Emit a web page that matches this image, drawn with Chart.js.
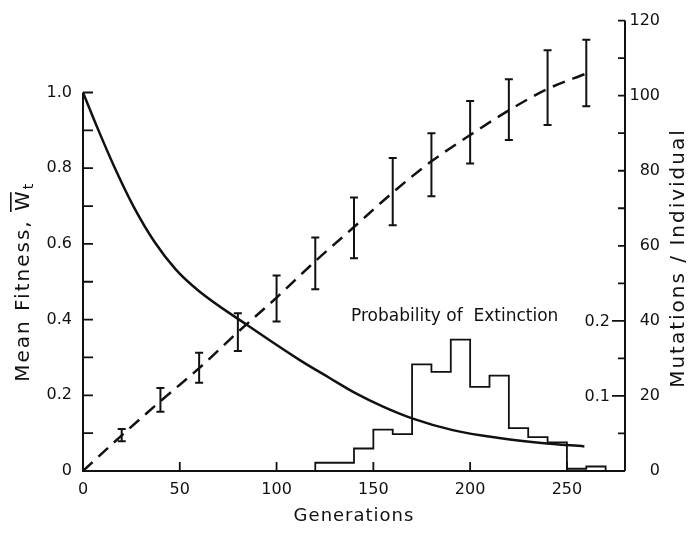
<!DOCTYPE html>
<html>
<head>
<meta charset="utf-8">
<script src="https://cdn.jsdelivr.net/npm/chart.js@4.4.1/dist/chart.umd.min.js"></script>
<style>
  html, body { margin: 0; padding: 0; background: #fff; }
  #wrap { width: 695px; height: 534px; }
</style>
</head>
<body>
<div id="wrap"><canvas id="chart" width="695" height="534"></canvas></div>
<script>
// Axes
const xTicks = [0, 50, 100, 150, 200, 250];
const leftTicks = [0, 0.2, 0.4, 0.6, 0.8, 1.0];
const leftTickLabels = ['0', '0.2', '0.4', '0.6', '0.8', '1.0'];
const rightTicks = [0, 20, 40, 60, 80, 100, 120];
const probTicks = [0.1, 0.2];
const probTickLabels = ['0.1', '0.2'];

// Mean fitness (solid curve, left axis)
const fitGens = [0, 8, 16.5, 26, 37, 48, 60, 85, 112, 127, 141, 155, 170, 191, 215, 237, 259];
const fitValues = [1.0, 0.9, 0.8, 0.7, 0.605, 0.532, 0.475, 0.385, 0.293, 0.247, 0.205, 0.17, 0.139, 0.108, 0.087, 0.074, 0.065];

// Mutations per individual (dashed curve + error bars, right axis)
const mutGens = [0, 20, 40, 60, 80, 100, 120, 140, 160, 180, 200, 220, 240, 260];
const mutMeans = [0, 9.5, 18.6, 27.4, 37.0, 46.2, 55.9, 65.0, 74.2, 82.5, 89.5, 96.1, 101.8, 105.9];
const errGens = [20, 40, 60, 80, 100, 120, 140, 160, 180, 200, 220, 240, 260];
const errLow = [7.9, 15.8, 23.5, 32.0, 39.8, 48.4, 56.7, 65.5, 73.2, 81.9, 88.2, 92.2, 97.2];
const errHigh = [11.2, 22.1, 31.5, 42.0, 52.1, 62.2, 72.9, 83.4, 90.0, 98.6, 104.4, 112.1, 114.9];

// Probability of extinction histogram (inner axis)
const binEdges = [120, 130, 140, 150, 160, 170, 180, 190, 200, 210, 220, 230, 240, 250, 260, 270];
const binProb = [0.011, 0.011, 0.030, 0.055, 0.049, 0.142, 0.132, 0.175, 0.112, 0.127, 0.057, 0.045, 0.038, 0.003, 0.006];

const ink = '#111';
const tickFont = '16px "DejaVu Sans"';
const titleFont = '18px "DejaVu Sans"';
const sideTitleFont = '20px "DejaVu Sans"';

const histPoints = [{ x: binEdges[0], y: 0 }];
binProb.forEach((p, i) => {
    histPoints.push({ x: binEdges[i], y: p });
    histPoints.push({ x: binEdges[i + 1], y: p });
});
histPoints.push({ x: binEdges[binEdges.length - 1], y: 0 });

function rotatedText(ctx, text, cx, cy) {
    ctx.save();
    ctx.translate(cx, cy);
    ctx.rotate(-Math.PI / 2);
    ctx.textAlign = 'center';
    ctx.textBaseline = 'alphabetic';
    ctx.fillText(text, 0, 0);
    ctx.restore();
}

const paperAxes = {
    id: 'paperAxes',
    afterDatasetsDraw(chart) {
        const { ctx, chartArea: a, scales } = chart;
        const x = scales.x, yL = scales.y, yR = scales.yR, yP = scales.yP;
        ctx.save();
        ctx.strokeStyle = ink;
        ctx.fillStyle = ink;

        // error bars
        ctx.lineWidth = 2;
        errGens.forEach((g, i) => {
            const px = x.getPixelForValue(g);
            const top = yR.getPixelForValue(errHigh[i]);
            const bot = yR.getPixelForValue(errLow[i]);
            ctx.beginPath();
            ctx.moveTo(px, top); ctx.lineTo(px, bot);
            ctx.moveTo(px - 4, top); ctx.lineTo(px + 4, top);
            ctx.moveTo(px - 4, bot); ctx.lineTo(px + 4, bot);
            ctx.stroke();
        });

        // axis lines
        ctx.lineWidth = 2;
        ctx.beginPath();
        ctx.moveTo(a.left, yL.getPixelForValue(1.0));
        ctx.lineTo(a.left, a.bottom);
        ctx.lineTo(a.right, a.bottom);
        ctx.moveTo(a.right, a.bottom);
        ctx.lineTo(a.right, yR.getPixelForValue(120));
        ctx.stroke();

        // inward ticks
        ctx.lineWidth = 1.8;
        ctx.beginPath();
        for (let v = 0.1; v <= 1.0001; v += 0.1) {
            const py = yL.getPixelForValue(v);
            ctx.moveTo(a.left, py); ctx.lineTo(a.left + 10, py);
        }
        for (let v = 10; v <= 120; v += 10) {
            const py = yR.getPixelForValue(v);
            ctx.moveTo(a.right, py); ctx.lineTo(a.right - 7, py);
        }
        xTicks.slice(1).forEach(v => {
            const px = x.getPixelForValue(v);
            ctx.moveTo(px, a.bottom); ctx.lineTo(px, a.bottom - 9);
        });
        probTicks.forEach(v => {
            const py = yP.getPixelForValue(v);
            ctx.moveTo(a.right - 13, py); ctx.lineTo(a.right, py);
        });
        ctx.stroke();

        // inner probability labels
        ctx.font = tickFont;
        ctx.textAlign = 'right';
        ctx.textBaseline = 'middle';
        probTicks.forEach((v, i) => {
            ctx.fillText(probTickLabels[i], a.right - 15, yP.getPixelForValue(v) + 1);
        });

        // annotation
        ctx.font = '17px "DejaVu Sans"';
        ctx.textAlign = 'center';
        ctx.textBaseline = 'alphabetic';
        ctx.fillText('Probability of  Extinction', x.getPixelForValue(192), yP.getPixelForValue(0.2));

        // titles
        ctx.font = titleFont;
        ctx.letterSpacing = '1px';
        ctx.textAlign = 'center';
        ctx.fillText('Generations', (a.left + a.right) / 2, 521);

        ctx.font = sideTitleFont;
        ctx.letterSpacing = '2px';
        rotatedText(ctx, 'Mutations / Individual', 684, 258);

        // left title with W-bar and subscript t
        const midY = (yL.getPixelForValue(0) + yL.getPixelForValue(1.0)) / 2;
        ctx.save();
        ctx.translate(29, midY);
        ctx.rotate(-Math.PI / 2);
        ctx.textAlign = 'left';
        const mainText = 'Mean Fitness, W';
        ctx.font = sideTitleFont;
        const wMain = ctx.measureText(mainText).width;
        const wW = ctx.measureText('W').width;
        ctx.font = '14px "DejaVu Sans"';
        const wSub = ctx.measureText('t').width;
        const x0 = -(wMain + wSub) / 2;
        ctx.font = sideTitleFont;
        ctx.fillText(mainText, x0, 0);
        ctx.fillRect(x0 + wMain - wW - 1, -19, wW - 2, 1.6);
        ctx.font = '14px "DejaVu Sans"';
        ctx.fillText('t', x0 + wMain, 4);
        ctx.restore();

        ctx.restore();
    }
};

const ctx = document.getElementById('chart').getContext('2d');
new Chart(ctx, {
    type: 'line',
    data: {
        datasets: [
            {
                label: 'Mean Fitness',
                data: fitGens.map((g, i) => ({ x: g, y: fitValues[i] })),
                yAxisID: 'y',
                borderColor: ink,
                borderWidth: 2.5,
                pointRadius: 0,
                fill: false,
                cubicInterpolationMode: 'monotone'
            },
            {
                label: 'Mutations / Individual',
                data: mutGens.map((g, i) => ({ x: g, y: mutMeans[i] })),
                yAxisID: 'yR',
                borderColor: ink,
                borderWidth: 2.5,
                borderDash: [13, 8],
                pointRadius: 0,
                fill: false,
                cubicInterpolationMode: 'monotone'
            },
            {
                label: 'Probability of Extinction',
                data: histPoints,
                yAxisID: 'yP',
                borderColor: ink,
                borderWidth: 1.8,
                pointRadius: 0,
                fill: false,
                tension: 0
            }
        ]
    },
    options: {
        responsive: false,
        animation: false,
        events: [],
        layout: { padding: { top: 14, right: 35, left: 0, bottom: 0 } },
        plugins: { legend: { display: false }, tooltip: { enabled: false } },
        scales: {
            x: {
                type: 'linear',
                position: 'bottom',
                min: 0,
                max: 280,
                grid: { display: false, drawTicks: false },
                border: { display: false },
                afterBuildTicks: s => { s.ticks = xTicks.map(v => ({ value: v })); },
                afterFit: s => { s.height = 63; },
                ticks: { color: ink, font: { family: 'DejaVu Sans', size: 16 }, padding: 9, maxRotation: 0, autoSkip: false }
            },
            y: {
                type: 'linear',
                position: 'left',
                min: 0,
                max: 1.19,
                grid: { display: false, drawTicks: false },
                border: { display: false },
                afterBuildTicks: s => { s.ticks = leftTicks.map(v => ({ value: v })); },
                afterFit: s => { s.width = 83; },
                ticks: {
                    color: ink,
                    font: { family: 'DejaVu Sans', size: 16 },
                    padding: 11,
                    autoSkip: false,
                    callback: (v, i) => leftTickLabels[i]
                }
            },
            yR: {
                type: 'linear',
                position: 'right',
                min: 0,
                max: 120,
                grid: { display: false, drawTicks: false },
                border: { display: false },
                afterBuildTicks: s => { s.ticks = rightTicks.map(v => ({ value: v })); },
                afterFit: s => { s.width = 35; },
                ticks: {
                    color: ink,
                    font: { family: 'DejaVu Sans', size: 16 },
                    crossAlign: 'far',
                    autoSkip: false
                }
            },
            yP: {
                type: 'linear',
                display: false,
                min: 0,
                max: 0.6
            }
        }
    },
    plugins: [paperAxes]
});
</script>
</body>
</html>
